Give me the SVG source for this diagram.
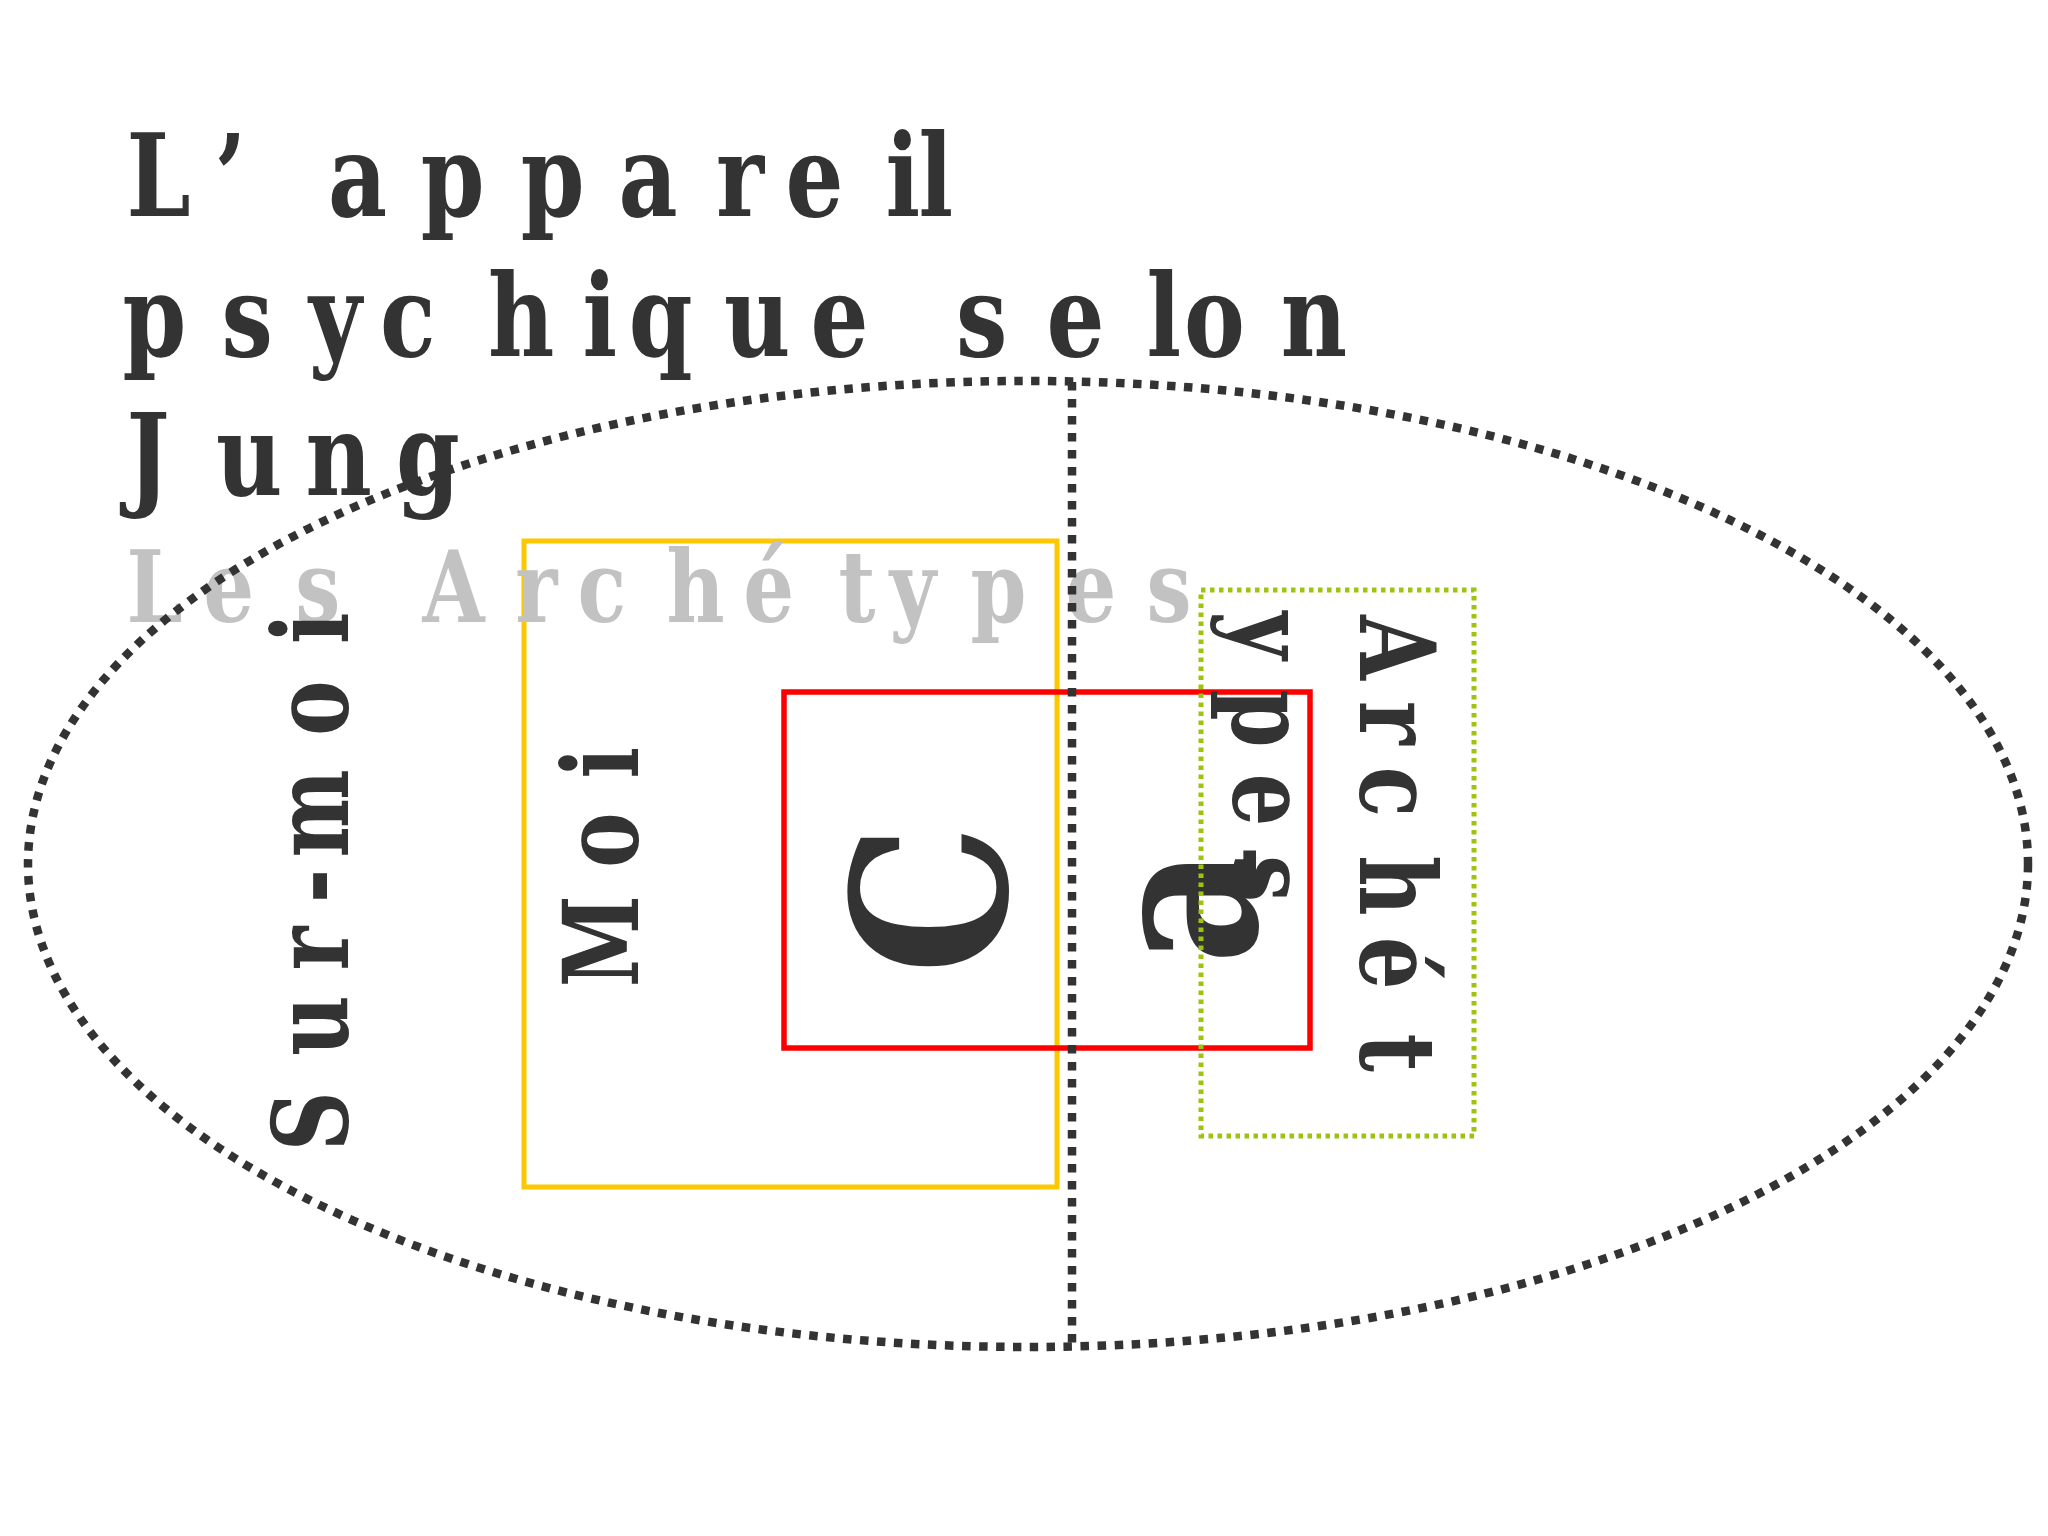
<svg xmlns="http://www.w3.org/2000/svg" width="2048" height="1536" viewBox="0 0 2048 1536">
<style>
.t{font-family:"DejaVu Serif","Liberation Serif",serif;font-weight:bold;fill:#333333}
.g{font-family:"DejaVu Serif","Liberation Serif",serif;font-weight:bold;fill:#c2c2c2}
.dot{fill:none;stroke:#333333;stroke-width:8.5;stroke-dasharray:8.5 8.5}
</style>
<rect width="2048" height="1536" fill="#ffffff"/>
<g id="moi">
<rect x="524" y="541" width="533" height="646" fill="none" stroke="#fcc800" stroke-width="5"/>
</g>
<g id="ca">
<rect x="784" y="692" width="526" height="356" fill="none" stroke="#ff0000" stroke-width="5.5"/>
</g>
<g id="subtitle">
<text class="g" font-size="100" transform="scale(0.8,1)" y="622" x="158 254 369 460 528 644 722 833 929 1048 1112 1213 1332 1433">Les Archétypes</text>
</g>
<g id="ca-label">
<text class="t" font-size="214" transform="rotate(-90) scale(0.88,1)" x="-1022" y="1006" text-anchor="middle">C</text>
<text class="t" font-size="214" transform="rotate(-90) scale(0.85,1)" x="-1065" y="1256" text-anchor="middle">a</text>
</g>
<g id="archetypes">
<rect x="1201" y="590" width="273" height="546" fill="none" stroke="#9cc30d" stroke-width="5" stroke-dasharray="4.5 4.5"/>
<text class="t" font-size="104" transform="rotate(90) scale(0.8,1)" y="-1360" x="769 876 958 1069 1171 1292">Archét</text>
<text class="t" font-size="104" transform="rotate(90) scale(0.8,1)" y="-1233" x="764 862 967 1069">ypes</text>
</g>
<g id="moi-label">
<text class="t" font-size="104" transform="rotate(-90) scale(0.8,1)" y="638" x="-1234 -1085 -973">Moi</text>
</g>
<g id="surmoi">
<text class="t" font-size="104" transform="rotate(-90) scale(0.8,1)" y="348" x="-1439 -1320 -1213 -1129 -1072 -920 -805">Sur-moi</text>
</g>
<g id="psyche">
<ellipse class="dot" cx="1028" cy="864" rx="1000" ry="483"/>
</g>
<g id="connectors">
<line class="dot" x1="1072" y1="382" x2="1072" y2="1350"/>
</g>
<g id="title">
<text class="t" font-size="114" transform="scale(0.8,1)" y="216" x="158 268 310 410 526 651 773 895 982 1107 1148">L’ appareil</text>
<text class="t" font-size="114" transform="scale(0.8,1)" y="356" x="153 277 386 475 610 728 786 905 1013 1125 1195 1308 1433 1480 1601">psychique selon</text>
<text class="t" font-size="114" transform="scale(0.8,1)" y="495" x="158 270 382 495">Jung</text>
</g>
</svg>
